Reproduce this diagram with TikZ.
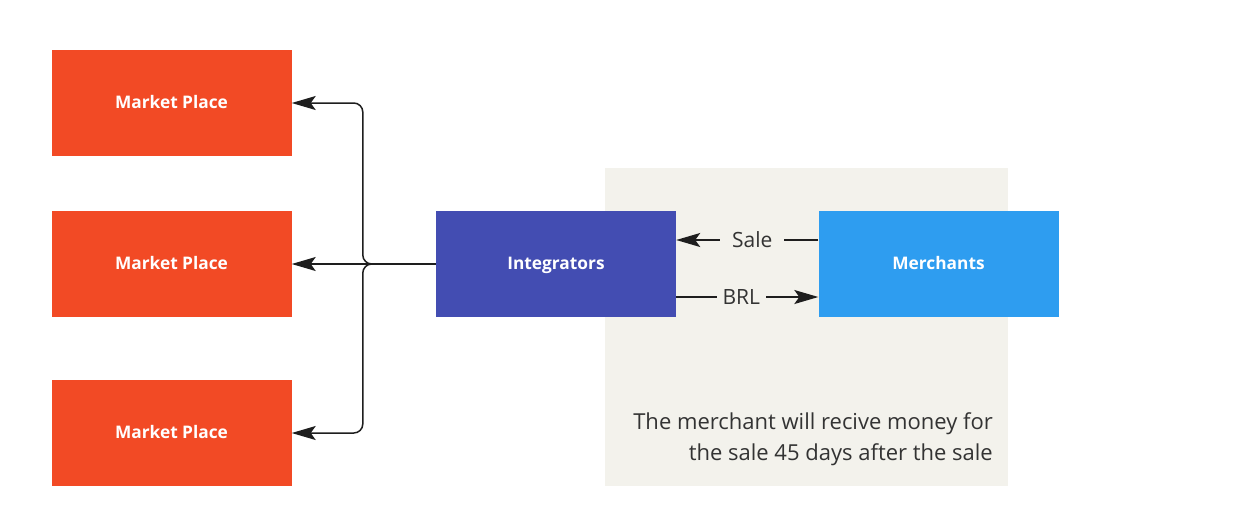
\documentclass[tikz,border=0pt]{standalone}
\usepackage{fontspec}
\setmainfont{Open Sans}
\usetikzlibrary{arrows.meta}
\definecolor{mpred}{HTML}{F24A25}
\definecolor{intblue}{HTML}{434DB2}
\definecolor{merblue}{HTML}{2E9DF0}
\definecolor{panel}{HTML}{F3F2EC}
\definecolor{ink}{HTML}{1E1E1E}
\definecolor{txt}{HTML}{333333}
\tikzset{
  box/.style={minimum width=240pt, minimum height=106pt, inner sep=0pt, text height=13.5pt, text depth=3.5pt, text=white, font=\fontsize{17.3}{20}\selectfont\bfseries},
  arr/.style={draw=ink, line width=1.5pt, -{Stealth[length=24pt,width=14pt,inset=5pt]}},
  lbl/.style={fill=panel, text=txt, font=\fontsize{21}{25}\selectfont, inner ysep=2pt},
}
\begin{document}
\begin{tikzpicture}[x=1pt,y=1pt]
\useasboundingbox (0,0) rectangle (1238,-523);
\fill[white] (0,0) rectangle (1238,-523);
\node[fill=panel, minimum width=403pt, minimum height=318pt, inner sep=0pt] (panel) at (806.5,-327) {};
\node[box, fill=mpred] (mp1) at (171.5,-103) {Market Place};
\node[box, fill=mpred] (mp2) at (171.5,-264) {Market Place};
\node[box, fill=mpred] (mp3) at (171.5,-433) {Market Place};
\node[box, fill=intblue] (int) at (556,-264) {Integrators};
\node[box, fill=merblue] (mer) at (938.5,-264) {Merchants};
\node[text=txt, font=\fontsize{22}{31}\selectfont, align=right, anchor=north east, inner sep=0pt] (note) at (993,-412) {The merchant will recive money for\\the sale 45 days after the sale};
\draw[arr] (int.west) -- (mp2.east);
\draw[arr, rounded corners=9pt] (int.west) -- ([xshift=-73pt]int.west) |- (mp1.east);
\draw[arr, rounded corners=9pt] (int.west) -- ([xshift=-73pt]int.west) |- (mp3.east);
\draw[arr] ([yshift=24pt]mer.west) -- node[lbl, pos=0.465, inner xsep=12pt] (sale) {Sale} ([yshift=24pt]int.east);
\draw[arr] ([yshift=-33pt]int.east) -- node[lbl, pos=0.458, inner xsep=6pt] (brl) {BRL} ([yshift=-33pt]mer.west);
\end{tikzpicture}
\end{document}
